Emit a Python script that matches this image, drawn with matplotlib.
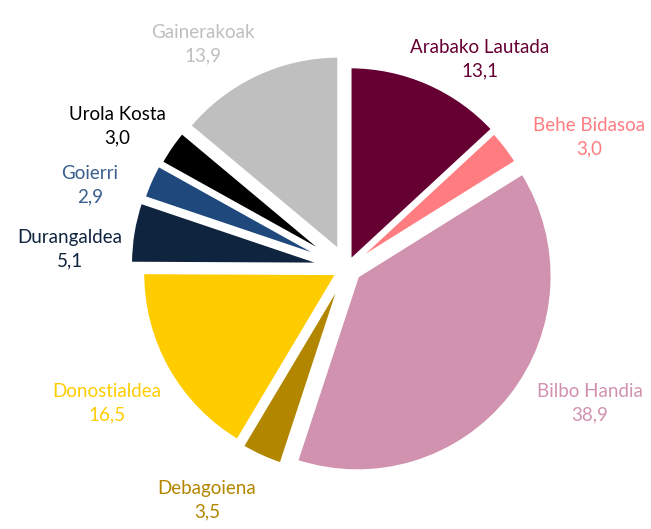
import numpy as np
import matplotlib.pyplot as plt

regions = ["Arabako Lautada", "Behe Bidasoa", "Bilbo Handia", "Debagoiena",
           "Donostialdea", "Durangaldea", "Goierri", "Urola Kosta", "Gainerakoak"]
values = [13.1, 3.0, 38.9, 3.5, 16.5, 5.1, 2.9, 3.0, 13.9]
colors = ["#660033", "#FF7C80", "#D092AE", "#B38600", "#FFCC00",
          "#0F243E", "#1F497D", "#000000", "#BFBFBF"]
text_colors = ["#660033", "#FF7C80", "#D092AE", "#B38600", "#FFCC00",
               "#0F243E", "#3A5F8F", "#000000", "#BFBFBF"]
explode = [0.036, 0.026, 0.067, 0.062, 0.056, 0.113, 0.103, 0.097, 0.097]
# label centres in pixel coords of the original image
label_px = [(480, 59), (589, 137), (590, 403), (207, 500), (107, 403),
            (70, 249), (90, 185), (117, 126), (203, 44)]

plt.rcParams['font.family'] = ['Lato', 'DejaVu Sans']

fig = plt.figure(figsize=(6.51, 5.29), dpi=100)
ax = fig.add_axes([0, 0, 1, 1])

cx, cy, r = 347, 268, 195
ax.pie(values, colors=colors, startangle=90, counterclock=False,
       explode=explode,
       wedgeprops=dict(edgecolor="white", linewidth=2.5))

for name, v, c, (px, py) in zip(regions, values, text_colors, label_px):
    ax.text((px - cx) / r, (cy - py) / r, f"{name}\n{v:.1f}".replace(".", ","),
            ha="center", va="center", color=c, fontsize=13.5, linespacing=1.45)

ax.set_xlim(-cx / r, (651 - cx) / r)
ax.set_ylim(-(529 - cy) / r, cy / r)
ax.set_aspect("equal")
ax.axis("off")
fig.savefig("out.png")
